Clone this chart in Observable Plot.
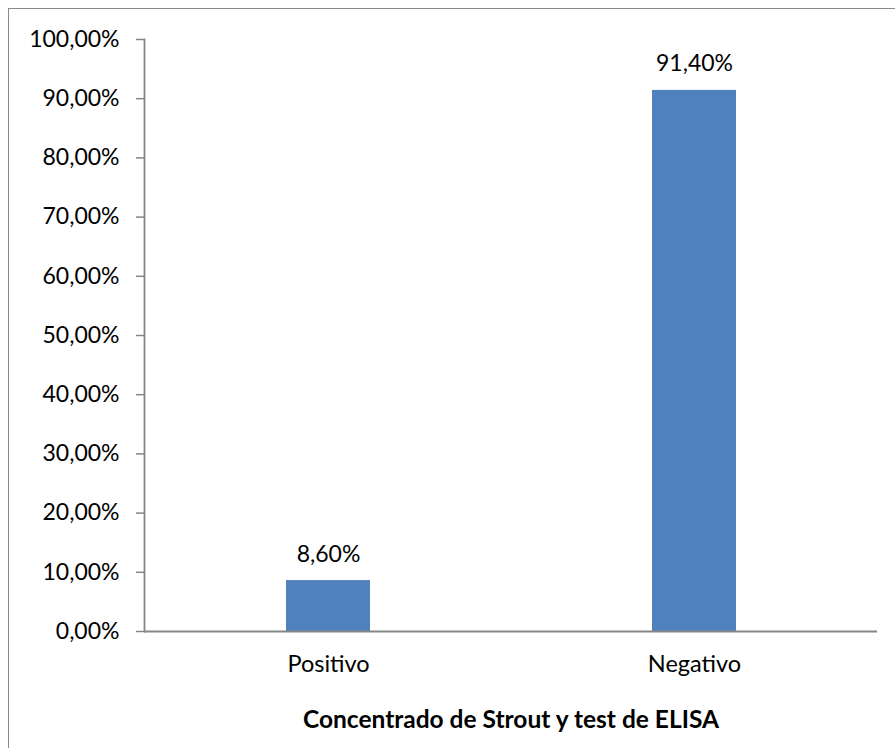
<!DOCTYPE html>
<html>
<head>
<meta charset="utf-8">
<script src="https://cdn.jsdelivr.net/npm/d3@7"></script>
<script src="https://cdn.jsdelivr.net/npm/@observablehq/plot@0.6"></script>
<style>
  html, body { margin: 0; padding: 0; background: #fff; overflow: hidden; }
  #wrap { position: relative; width: 895px; height: 748px; }
  #wrap svg { position: absolute; left: 0; top: 0; }
  /* chart-area border: only its top and left edges fall inside the page */
  #border { position: absolute; left: 8px; top: 8px; width: 1000px; height: 1000px;
            border-top: 1.5px solid #8a8a8a; border-left: 1.5px solid #8a8a8a; }
</style>
</head>
<body>
<div id="wrap"><div id="border"></div></div>
<script>
const categories = ["Positivo", "Negativo"];
const shares = [0.086, 0.914];
const yTicks = [0, 0.1, 0.2, 0.3, 0.4, 0.5, 0.6, 0.7, 0.8, 0.9, 1.0];
const axisTitle = "Concentrado de Strout y test de ELISA";

const rows = categories.map((category, i) => ({category, share: shares[i]}));

// Spanish-style percentage: comma as decimal separator, two decimals
const pct = v => (v * 100).toFixed(2).replace(".", ",") + "%";

const axisGray = "#868686";

const chart = Plot.plot({
  width: 895,
  height: 748,
  marginLeft: 144,
  marginRight: 18,
  marginTop: 39,
  marginBottom: 117,
  style: {fontFamily: "Lato, 'Open Sans', sans-serif", fontSize: "23px", color: "#000", background: "transparent"},
  x: {domain: categories, paddingInner: 0.771, paddingOuter: 0.3855, align: 0.5, label: null},
  y: {domain: [0, 1], label: null},
  marks: [
    Plot.barY(rows, {x: "category", y: "share", fill: "#4F81BD"}),
    Plot.ruleY([0], {stroke: axisGray, strokeWidth: 1.8}),
    Plot.frame({anchor: "left", stroke: axisGray, strokeWidth: 1.8}),
    Plot.axisY({ticks: yTicks, tickFormat: pct, tickSize: 8, tickPadding: 17,
                stroke: axisGray, strokeWidth: 1.5, fill: "#000", label: null}),
    Plot.axisX({tickSize: 0, tickPadding: 24, fontSize: 23.5, fill: "#000", label: null}),
    Plot.text(rows, {x: "category", y: "share", text: d => pct(d.share),
                     lineAnchor: "bottom", dy: -19, fill: "#000"}),
    Plot.text([axisTitle], {frameAnchor: "bottom", dy: 96, lineAnchor: "bottom",
                            fontSize: 24.5, fontWeight: "bold", fill: "#000"})
  ]
});

document.getElementById("wrap").prepend(chart);
</script>
</body>
</html>
